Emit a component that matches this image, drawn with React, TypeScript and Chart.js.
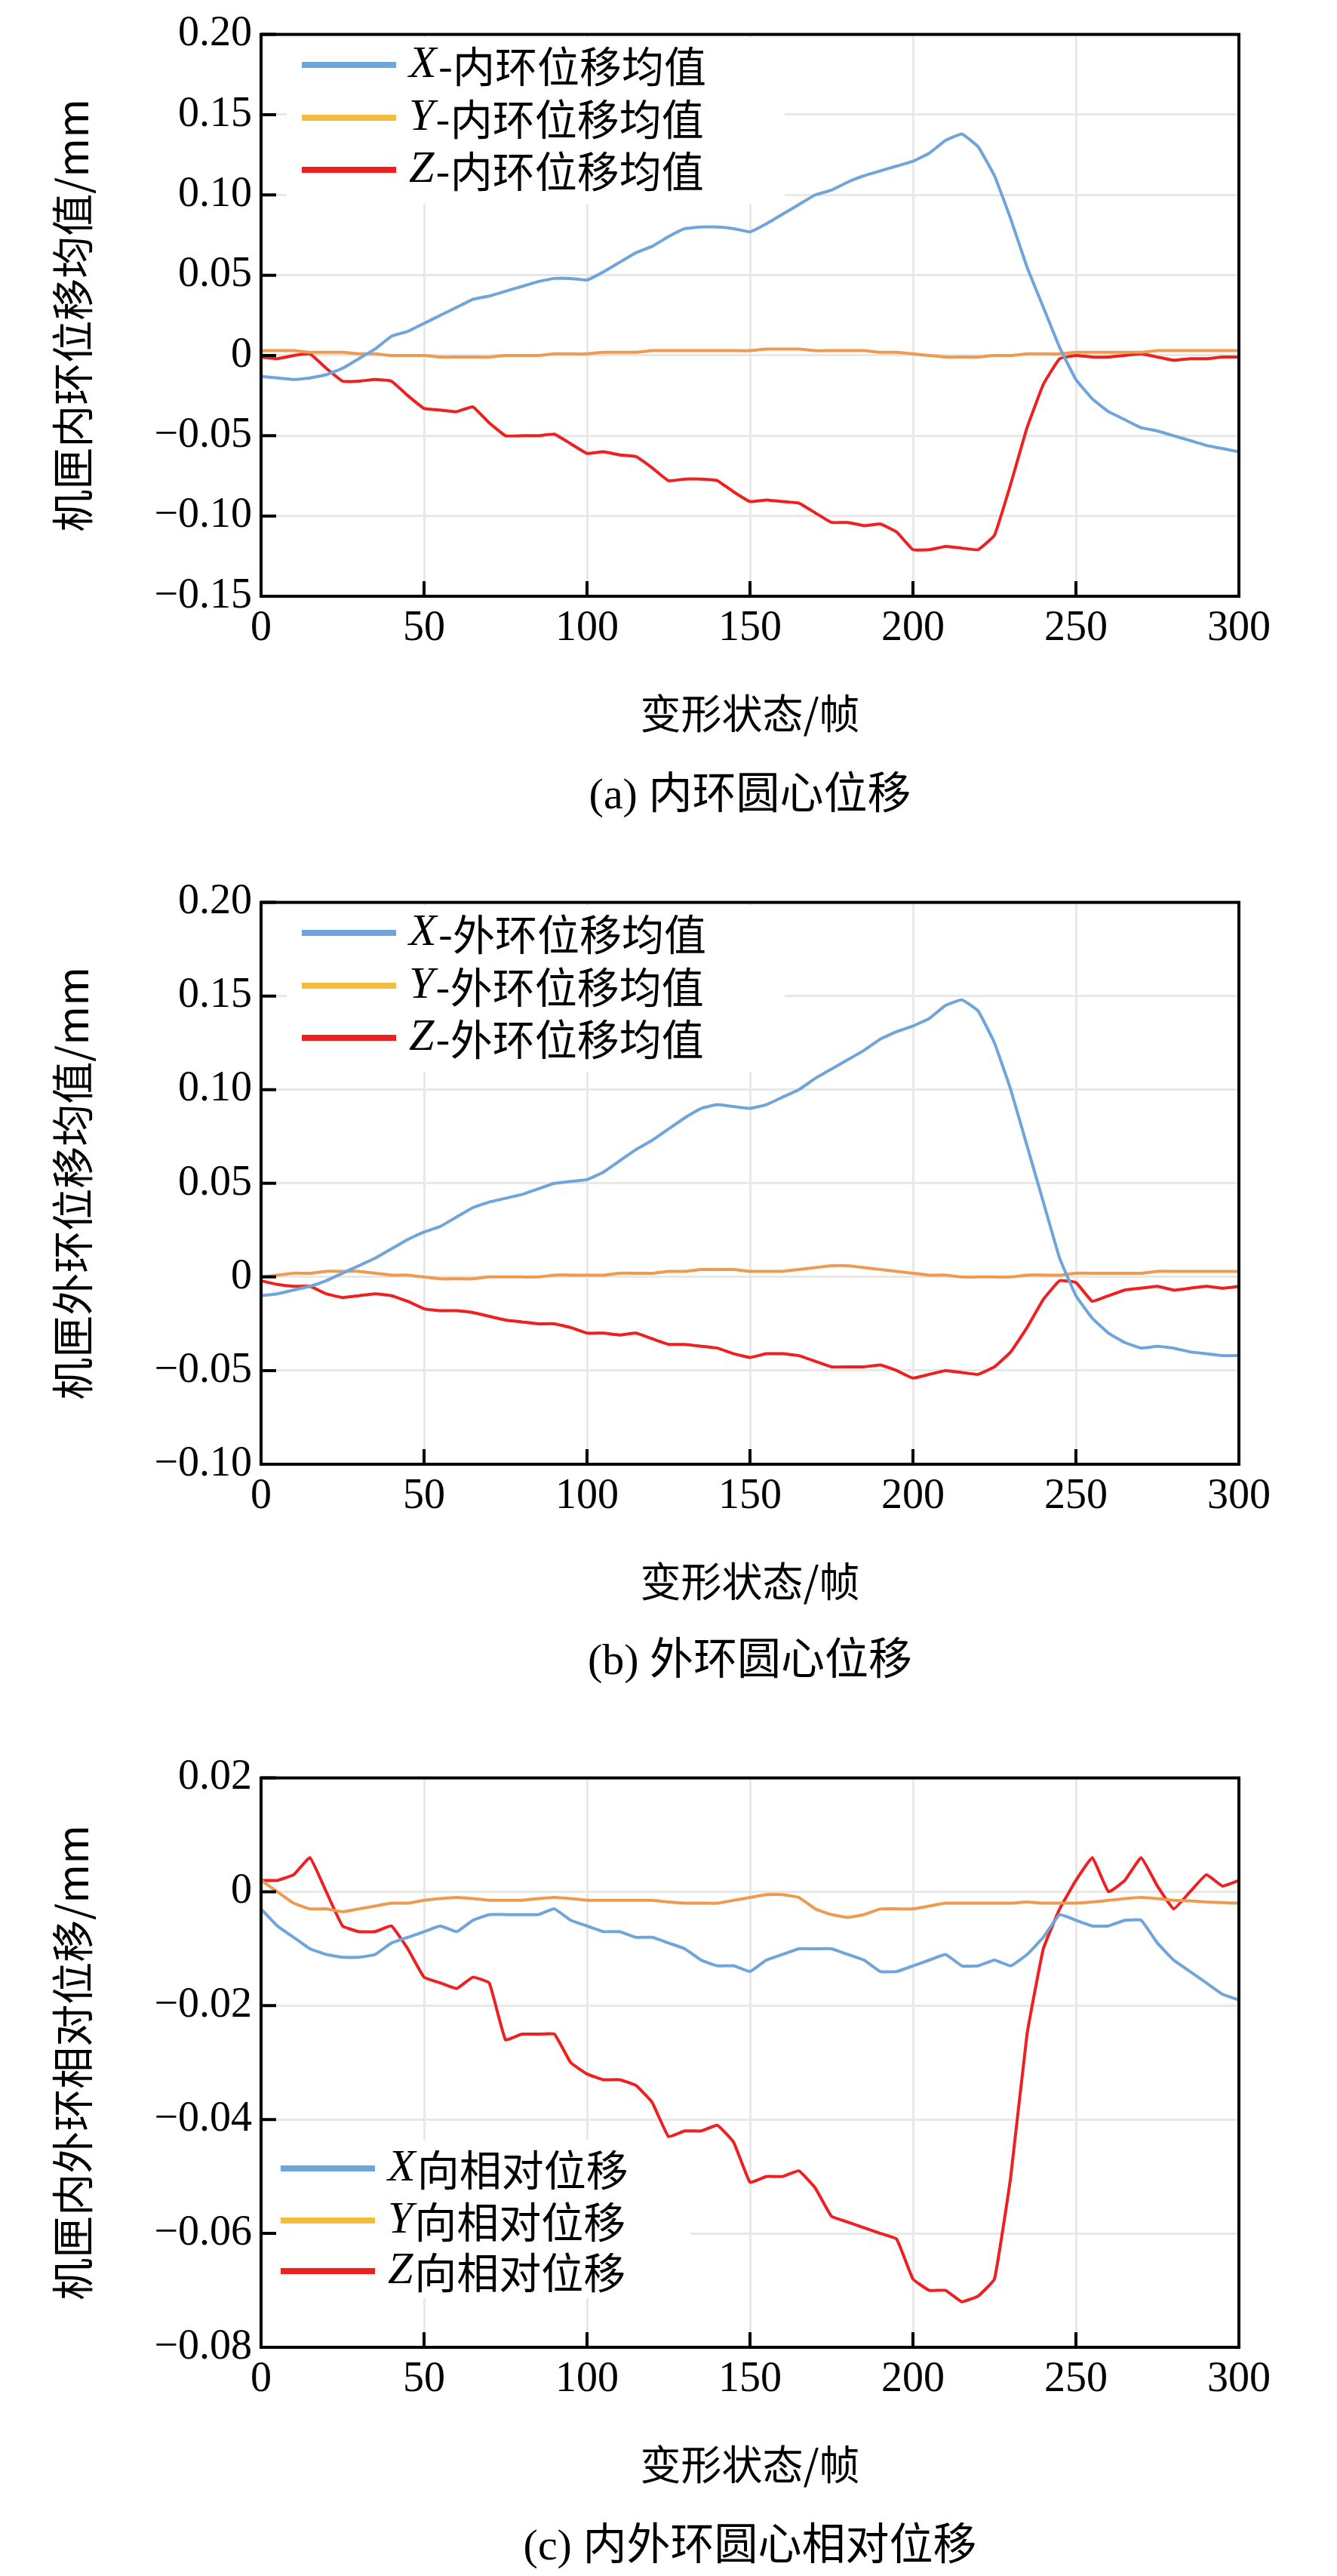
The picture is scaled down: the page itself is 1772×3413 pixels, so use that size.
import React, { useEffect, useRef } from "react";
import { Chart, registerables } from "chart.js";
Chart.register(...registerables);

const frames = Array.from({ length: 61 }, (_, i) => i * 5);
const xTicks = [0, 50, 100, 150, 200, 250, 300];

const innerX = [-0.013,-0.014,-0.015,-0.014,-0.012,-0.008,-0.002,0.004,0.012,0.015,0.020,0.025,0.030,0.035,0.037,0.040,0.043,0.046,0.048,0.048,0.047,0.052,0.058,0.064,0.068,0.074,0.079,0.080,0.080,0.079,0.077,0.082,0.088,0.094,0.100,0.103,0.108,0.112,0.115,0.118,0.121,0.126,0.134,0.138,0.130,0.112,0.085,0.055,0.030,0.005,-0.015,-0.027,-0.035,-0.040,-0.045,-0.047,-0.050,-0.053,-0.056,-0.058,-0.060];
const innerY = [0.003,0.003,0.003,0.002,0.002,0.002,0.001,0.001,0.000,0.000,0.000,-0.001,-0.001,-0.001,-0.001,0.000,0.000,0.000,0.001,0.001,0.001,0.002,0.002,0.002,0.003,0.003,0.003,0.003,0.003,0.003,0.003,0.004,0.004,0.004,0.003,0.003,0.003,0.003,0.002,0.002,0.001,0.000,-0.001,-0.001,-0.001,0.000,0.000,0.001,0.001,0.001,0.002,0.002,0.002,0.002,0.002,0.003,0.003,0.003,0.003,0.003,0.003];
const innerZ = [-0.001,-0.002,0.000,0.001,-0.008,-0.016,-0.016,-0.015,-0.016,-0.025,-0.033,-0.034,-0.035,-0.032,-0.042,-0.050,-0.050,-0.050,-0.049,-0.055,-0.061,-0.060,-0.062,-0.063,-0.070,-0.078,-0.077,-0.077,-0.078,-0.085,-0.091,-0.090,-0.091,-0.092,-0.098,-0.104,-0.104,-0.106,-0.105,-0.110,-0.121,-0.121,-0.119,-0.120,-0.121,-0.112,-0.080,-0.045,-0.018,-0.002,0.000,-0.001,-0.001,0.000,0.001,-0.001,-0.003,-0.002,-0.002,-0.001,-0.001];

const outerX = [-0.010,-0.009,-0.007,-0.005,-0.002,0.002,0.006,0.010,0.015,0.020,0.024,0.027,0.032,0.037,0.040,0.042,0.044,0.047,0.050,0.051,0.052,0.056,0.062,0.068,0.073,0.079,0.085,0.090,0.092,0.091,0.090,0.092,0.096,0.100,0.106,0.111,0.116,0.121,0.127,0.131,0.134,0.138,0.145,0.148,0.142,0.125,0.100,0.070,0.040,0.010,-0.010,-0.022,-0.030,-0.035,-0.038,-0.037,-0.038,-0.040,-0.041,-0.042,-0.042];
const outerY = [0.000,0.001,0.002,0.002,0.003,0.003,0.003,0.002,0.001,0.001,0.000,-0.001,-0.001,-0.001,0.000,0.000,0.000,0.000,0.001,0.001,0.001,0.001,0.002,0.002,0.002,0.003,0.003,0.004,0.004,0.004,0.003,0.003,0.003,0.004,0.005,0.006,0.006,0.005,0.004,0.003,0.002,0.001,0.001,0.000,0.000,0.000,0.000,0.001,0.001,0.001,0.002,0.002,0.002,0.002,0.002,0.003,0.003,0.003,0.003,0.003,0.003];
const outerZ = [-0.002,-0.004,-0.005,-0.005,-0.009,-0.011,-0.010,-0.009,-0.010,-0.013,-0.017,-0.018,-0.018,-0.019,-0.021,-0.023,-0.024,-0.025,-0.025,-0.027,-0.030,-0.030,-0.031,-0.030,-0.033,-0.036,-0.036,-0.037,-0.038,-0.041,-0.043,-0.041,-0.041,-0.042,-0.045,-0.048,-0.048,-0.048,-0.047,-0.050,-0.054,-0.052,-0.050,-0.051,-0.052,-0.048,-0.040,-0.027,-0.012,-0.002,-0.003,-0.013,-0.010,-0.007,-0.006,-0.005,-0.007,-0.006,-0.005,-0.006,-0.005];

const relX = [-0.003,-0.006,-0.008,-0.010,-0.011,-0.0115,-0.0115,-0.011,-0.009,-0.008,-0.007,-0.006,-0.007,-0.005,-0.004,-0.004,-0.004,-0.004,-0.003,-0.005,-0.006,-0.007,-0.007,-0.008,-0.008,-0.009,-0.010,-0.012,-0.013,-0.013,-0.014,-0.012,-0.011,-0.010,-0.010,-0.010,-0.011,-0.012,-0.014,-0.014,-0.013,-0.012,-0.011,-0.013,-0.013,-0.012,-0.013,-0.011,-0.008,-0.004,-0.005,-0.006,-0.006,-0.005,-0.005,-0.009,-0.012,-0.014,-0.016,-0.018,-0.019];
const relY = [0.002,0.000,-0.002,-0.003,-0.003,-0.0035,-0.003,-0.0025,-0.002,-0.002,-0.0015,-0.0012,-0.001,-0.0012,-0.0015,-0.0015,-0.0015,-0.0012,-0.001,-0.0012,-0.0015,-0.0015,-0.0015,-0.0015,-0.0015,-0.0018,-0.002,-0.002,-0.002,-0.0015,-0.001,-0.0005,-0.0005,-0.001,-0.003,-0.004,-0.0045,-0.004,-0.003,-0.003,-0.003,-0.0025,-0.002,-0.002,-0.002,-0.002,-0.002,-0.0018,-0.002,-0.002,-0.002,-0.0018,-0.0015,-0.0012,-0.001,-0.0012,-0.0015,-0.0016,-0.0018,-0.0019,-0.002];
const relZ = [0.002,0.002,0.003,0.006,0.000,-0.006,-0.007,-0.007,-0.006,-0.010,-0.015,-0.016,-0.017,-0.015,-0.016,-0.026,-0.025,-0.025,-0.025,-0.030,-0.032,-0.033,-0.033,-0.034,-0.037,-0.043,-0.042,-0.042,-0.041,-0.044,-0.051,-0.050,-0.050,-0.049,-0.052,-0.057,-0.058,-0.059,-0.060,-0.061,-0.068,-0.070,-0.070,-0.072,-0.071,-0.068,-0.050,-0.025,-0.010,-0.003,0.002,0.006,0.000,0.002,0.006,0.001,-0.003,0.000,0.003,0.001,0.002];

const COLX = "#6fa5da";
const COLY = "#ee9a50";
const COLYL = "#f2bd3c";
const COLZ = "#ee2020";
const SERIF = "'Liberation Serif', 'Noto Sans CJK SC', serif";
const CJK = "'Noto Sans CJK SC', 'Liberation Serif', serif";

type Cfg = {
  top: number; height: number; ymin: number; ymax: number; ystep: number; dp: number;
  ytitle: string; data: number[][]; names: string[]; prefixes: string[];
  legX: number; legRows: number[]; legBox: number[];
};

const plots: Cfg[] = [
  { top: 0, height: 990, ymin: -0.15, ymax: 0.2, ystep: 0.05, dp: 2, ytitle: "机匣内环位移均值/mm",
    data: [innerX, innerY, innerZ], names: ["-内环位移均值", "-内环位移均值", "-内环位移均值"], prefixes: ["X", "Y", "Z"],
    legX: 400, legRows: [86, 156, 225], legBox: [380, 50, 660, 220] },
  { top: 1150, height: 990, ymin: -0.1, ymax: 0.2, ystep: 0.05, dp: 2, ytitle: "机匣外环位移均值/mm",
    data: [outerX, outerY, outerZ], names: ["-外环位移均值", "-外环位移均值", "-外环位移均值"], prefixes: ["X", "Y", "Z"],
    legX: 400, legRows: [86, 156, 225], legBox: [380, 50, 660, 220] },
  { top: 2310, height: 1000, ymin: -0.08, ymax: 0.02, ystep: 0.02, dp: 2, ytitle: "机匣内外环相对位移/mm",
    data: [relX, relY, relZ], names: ["向相对位移", "向相对位移", "向相对位移"], prefixes: ["X", "Y", "Z"],
    legX: 372, legRows: [563, 632, 699], legBox: [355, 525, 560, 210] },
];

function ChartBox({ cfg }: { cfg: Cfg }) {
  const ref = useRef<HTMLCanvasElement>(null);
  useEffect(() => {
    const cols = [COLX, COLY, COLZ];
    const legCols = [COLX, COLYL, COLZ];
    const overlay = {
      id: "overlay",
      beforeDatasetsDraw(chart: any) {
        const ctx = chart.ctx;
        const b = cfg.legBox;
        ctx.save();
        ctx.fillStyle = "#fff";
        ctx.fillRect(b[0], b[1], b[2], b[3]);
        ctx.restore();
      },
      afterDraw(chart: any) {
        const ctx = chart.ctx;
        const a = chart.chartArea;
        const xs = chart.scales.x, ys = chart.scales.y;
        ctx.save();
        ctx.strokeStyle = "#000";
        ctx.lineWidth = 4;
        ctx.beginPath();
        for (const t of xTicks) {
          const px = xs.getPixelForValue(t);
          ctx.moveTo(px, a.bottom); ctx.lineTo(px, a.bottom - 20);
        }
        for (let v = cfg.ymin; v <= cfg.ymax + 1e-9; v += cfg.ystep) {
          const py = ys.getPixelForValue(v);
          ctx.moveTo(a.left, py); ctx.lineTo(a.left + 20, py);
        }
        ctx.stroke();
        ctx.strokeRect(a.left, a.top, a.right - a.left, a.bottom - a.top);
        ctx.textBaseline = "middle";
        cfg.legRows.forEach((y, i) => {
          ctx.strokeStyle = legCols[i];
          ctx.lineWidth = 8;
          ctx.beginPath();
          ctx.moveTo(cfg.legX, y); ctx.lineTo(cfg.legX + 125, y);
          ctx.stroke();
          ctx.fillStyle = "#000";
          ctx.font = "italic 60px 'Liberation Serif'";
          const tx = cfg.legX + 142;
          ctx.fillText(cfg.prefixes[i], tx, y);
          const w = ctx.measureText(cfg.prefixes[i]).width;
          ctx.font = "56px " + CJK;
          ctx.fillText(cfg.names[i], tx + w + 2, y + 2);
        });
        ctx.restore();
      },
    };
    const chart = new Chart(ref.current!, {
      type: "line",
      data: {
        labels: frames,
        datasets: cfg.data.map((d, i) => ({
          data: d.map((v, j) => ({ x: frames[j], y: v })),
          borderColor: cols[i], borderWidth: 4, pointRadius: 0, tension: 0.1,
        })),
      },
      options: {
        animation: false, responsive: false, maintainAspectRatio: false,
        layout: { padding: { top: 43, right: 130, left: 0, bottom: 0 } },
        plugins: { legend: { display: false }, tooltip: { enabled: false } },
        scales: {
          x: {
            type: "linear", min: 0, max: 300,
            afterFit: (s: any) => { s.height = 200; },
            afterBuildTicks: (s: any) => { s.ticks = xTicks.map((v) => ({ value: v })); },
            grid: { color: "#e8e8e8", lineWidth: 3, drawTicks: false },
            border: { display: false },
            ticks: { color: "#000", font: { family: SERIF, size: 56 }, padding: 10, maxRotation: 0 },
            title: { display: true, text: "变形状态/帧", color: "#000", font: { family: CJK, size: 54 }, padding: { top: 0, bottom: 12 } },
          },
          y: {
            min: cfg.ymin, max: cfg.ymax,
            afterFit: (s: any) => { s.width = 346; },
            grid: { color: "#e8e8e8", lineWidth: 3, drawTicks: false },
            border: { display: false },
            ticks: {
              stepSize: cfg.ystep, color: "#000", font: { family: SERIF, size: 56 }, padding: 12,
              callback: (v: any) => (Math.abs(v) < 1e-9 ? "0" : Number(v).toFixed(cfg.dp).replace("-", "−")),
            },
            title: { display: true, text: cfg.ytitle, color: "#000", font: { family: CJK, size: 56 }, padding: { top: 62, bottom: 0 } },
          },
        },
      },
      plugins: [overlay],
    } as any);
    return () => chart.destroy();
  }, [cfg]);
  return (
    <canvas ref={ref} width={1772} height={cfg.height}
      style={{ position: "absolute", left: 0, top: cfg.top, width: 1772, height: cfg.height }} />
  );
}

const captions = [
  { text: "(a) 内环圆心位移", top: 1052 },
  { text: "(b) 外环圆心位移", top: 2199 },
  { text: "(c) 内外环圆心相对位移", top: 3372 },
];

export default function App() {
  return (
    <div style={{ position: "absolute", left: 0, top: 0, width: 1772, height: 3413, background: "#fff", overflow: "hidden" }}>
      {plots.map((p, i) => <ChartBox key={i} cfg={p} />)}
      {captions.map((c, i) => (
        <div key={i} style={{ position: "absolute", left: 346, width: 1296, top: c.top - 34, textAlign: "center",
          fontFamily: SERIF, fontSize: 58, lineHeight: "68px", color: "#000" }}>{c.text}</div>
      ))}
    </div>
  );
}
